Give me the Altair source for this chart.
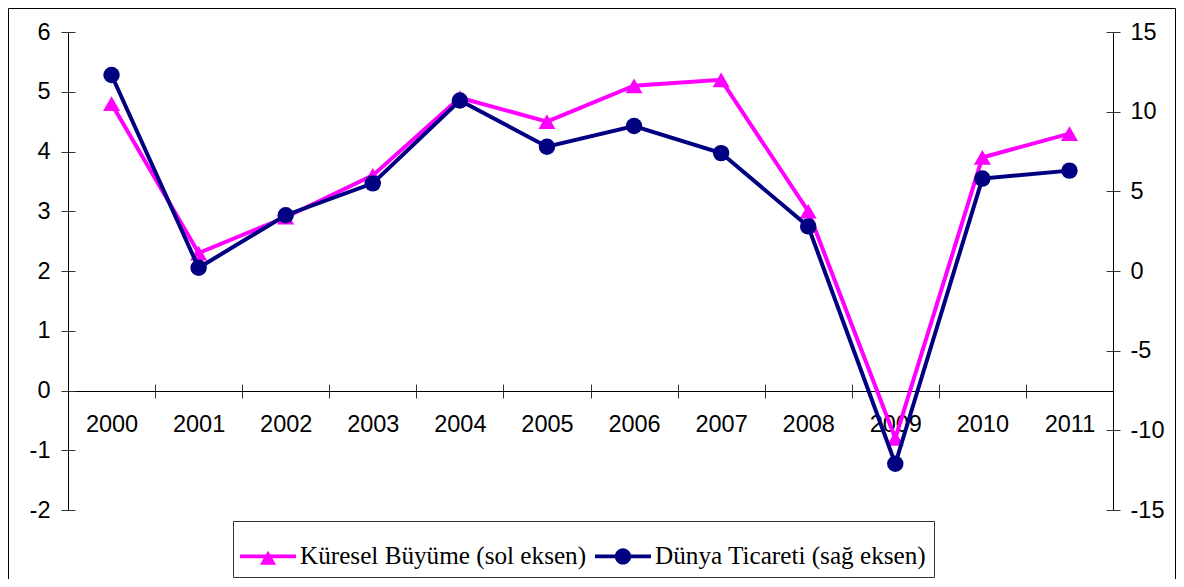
import altair as alt
import pandas as pd

years = ["2000", "2001", "2002", "2003", "2004", "2005", "2006", "2007", "2008", "2009", "2010", "2011"]
kuresel = [4.8, 2.3, 2.9, 3.6, 4.9, 4.5, 5.1, 5.2, 3.0, -0.8, 3.9, 4.3]
dunya = [12.3, 0.2, 3.5, 5.5, 10.7, 7.8, 9.1, 7.4, 2.8, -12.1, 5.8, 6.3]
series_names = ["Küresel Büyüme (sol eksen)", "Dünya Ticareti (sağ eksen)"]
series_colors = ["#FF00FF", "#000080"]
left_ticks = [-2, -1, 0, 1, 2, 3, 4, 5, 6]
right_ticks = [-15, -10, -5, 0, 5, 10, 15]

W, H = 1045, 478
FONT = "Liberation Sans"

df = pd.DataFrame({"year": years, "kuresel": kuresel, "dunya": dunya})
legend_df = pd.DataFrame({"series": series_names})

xscale = alt.Scale(type="band", paddingInner=0, paddingOuter=0, domain=years)
lscale = alt.Scale(domain=[-2, 6], nice=False, zero=False)
rscale = alt.Scale(domain=[-15, 15], nice=False, zero=False)

ax_common = dict(title=None, grid=False, labelFont=FONT, labelFontSize=23.5, labelColor="black",
                 tickColor="#333333", domainColor="black")

x_main = alt.X("year:O", scale=xscale, sort=years,
               axis=alt.Axis(orient="bottom", offset=-119, tickBand="extent", tickSize=7,
                             labelPadding=14, labelAngle=0, **ax_common))
x_top = alt.X("year:O", scale=xscale, sort=years,
              axis=alt.Axis(orient="top", offset=-359, tickBand="extent", tickSize=7,
                            labels=False, domain=False, title=None, grid=False, tickColor="#333333"))
x_none = alt.X("year:O", scale=xscale, sort=years, axis=None)

y_left = alt.Y("kuresel:Q", scale=lscale,
               axis=alt.Axis(orient="left", values=left_ticks, tickSize=7, labelPadding=11,
                             labelExpr="'' + datum.value", **ax_common))
y_left_helper = alt.Y("kuresel:Q", scale=lscale,
                      axis=alt.Axis(orient="right", offset=-W, values=left_ticks, tickSize=7, labels=False,
                                    domain=False, title=None, grid=False, tickColor="#333333"))
y_left_none = alt.Y("kuresel:Q", scale=lscale, axis=None)

y_right = alt.Y("dunya:Q", scale=rscale,
                axis=alt.Axis(orient="right", values=right_ticks, tickSize=7, labelPadding=10,
                              labelExpr="'' + datum.value", **ax_common))
y_right_helper = alt.Y("dunya:Q", scale=rscale,
                       axis=alt.Axis(orient="left", offset=-W, values=right_ticks, tickSize=7, labels=False,
                                     domain=False, title=None, grid=False, tickColor="#333333"))
y_right_none = alt.Y("dunya:Q", scale=rscale, axis=None)

base = alt.Chart(df)

k_line = base.mark_line(color=series_colors[0], strokeWidth=4).encode(x=x_main, y=y_left)
k_help = base.mark_line(opacity=0).encode(x=x_top, y=y_left_helper)
k_pts = base.mark_point(shape="triangle-up", filled=True, opacity=1, size=290,
                        color=series_colors[0]).encode(x=x_none, y=y_left_none)
d_line = base.mark_line(color=series_colors[1], strokeWidth=4).encode(x=x_none, y=y_right)
d_help = base.mark_line(opacity=0).encode(x=x_none, y=y_right_helper)
d_pts = base.mark_point(shape="circle", filled=True, opacity=1, size=270,
                        color=series_colors[1]).encode(x=x_none, y=y_right_none)

sym_tri = "M-1,-0.065H1V0.065H-1Z M0,-0.2L0.29,0.3L-0.29,0.3Z"
sym_cir = "M-1,-0.065H1V0.065H-1Z M0.29,0A0.29,0.29 0 1,1 -0.29,0A0.29,0.29 0 1,1 0.29,0Z"

leg = alt.Legend(title=None, orient="none", legendX=165, legendY=489, direction="horizontal",
                 strokeColor="#333333", fillColor="white", padding=7,
                 labelFont="Liberation Serif", labelFontSize=25.2, labelColor="black", labelLimit=0,
                 symbolSize=3136, symbolStrokeWidth=0, columnPadding=8, labelOffset=4)

legend_layer = alt.Chart(legend_df).mark_point(filled=True, opacity=1).encode(
    x=alt.value(-500), y=alt.value(-500),
    color=alt.Color("series:N", scale=alt.Scale(domain=series_names, range=series_colors),
                    sort=series_names, legend=leg),
    shape=alt.Shape("series:N", scale=alt.Scale(domain=series_names, range=[sym_tri, sym_cir]),
                    sort=series_names, legend=leg),
)

border = alt.Chart(pd.DataFrame({"b": [1]})).mark_rect(fill=None, stroke="black", strokeWidth=1).encode(
    x=alt.value(-59.5), x2=alt.value(1107.5), y=alt.value(-23.5), y2=alt.value(700)
)

chart = alt.layer(border, k_line, k_help, k_pts, d_line, d_help, d_pts, legend_layer).resolve_scale(
    y="independent"
).resolve_axis(
    x="independent", y="independent"
).properties(
    width=W, height=H,
    autosize=alt.AutoSizeParams(type="none"),
    padding={"left": 60, "top": 24, "right": 63, "bottom": 69},
    background="white",
).configure_view(strokeWidth=0)

chart.save("out.html", embed_options={"renderer": "svg", "actions": False})
